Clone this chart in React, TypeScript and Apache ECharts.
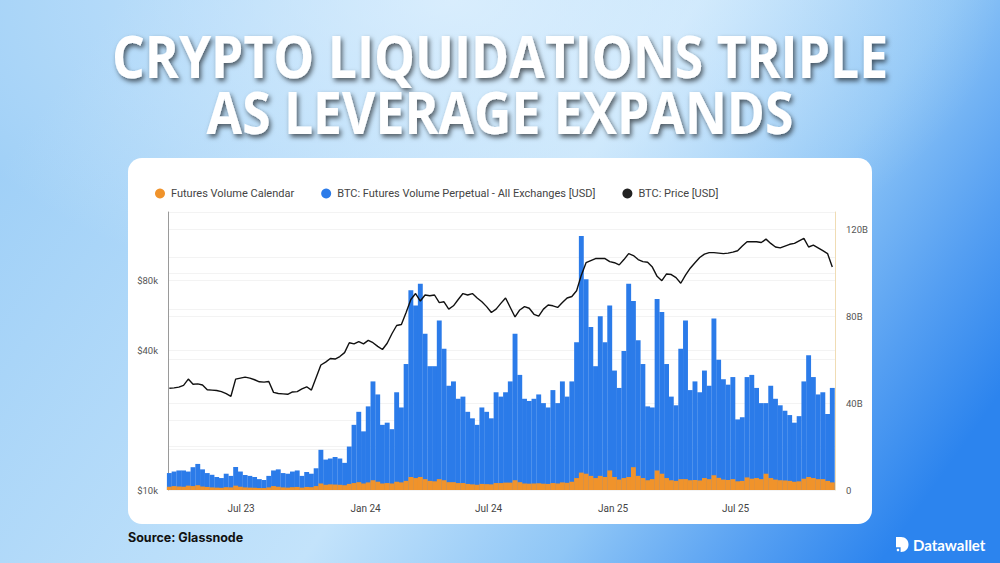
import React, { useEffect, useRef } from "react";
import * as echarts from "echarts";

// ---------- data ----------
const START_DATE = "2023-03-17"; // first weekly sample
const STEP_DAYS = 7;
const X_MIN_DATE = "2023-03-15";
const X_MAX_DATE = "2025-11-25";

const X_TICK_DATES = ["2023-07-01", "2024-01-01", "2024-07-01", "2025-01-01", "2025-07-01"];
const X_TICK_LABELS = ["Jul 23", "Jan 24", "Jul 24", "Jan 25", "Jul 25"];

const PRICE_LABEL_VALUES = [10000, 40000, 80000];
const PRICE_GRID_VALUES = [15000, 20000, 40000, 60000, 80000, 100000];
const VOLUME_LABEL_STEP_B = 40;

const SERIES_NAMES = [
  "Futures Volume Calendar",
  "BTC: Futures Volume Perpetual - All Exchanges [USD]",
  "BTC: Price [USD]",
];

// BTC price, thousands of USD, weekly
const BTC_PRICE_K = [
  27.4, 27.5, 27.7, 28.2, 30.0, 28.5, 28.6, 28.3, 27.0, 26.9,
  26.8, 26.5, 26.0, 25.3, 30.0, 30.3, 30.6, 30.3, 29.8, 29.2,
  29.1, 29.3, 26.3, 26.0, 25.9, 25.8, 26.4, 26.5, 27.2, 27.8,
  26.9, 30.5, 34.5, 35.5, 36.8, 36.6, 37.5, 39.0, 43.0, 42.5,
  43.5, 42.5, 44.0, 43.0, 41.5, 40.2, 42.8, 47.0, 51.0, 51.5,
  58.0, 66.0, 70.0, 65.0, 69.0, 68.5, 69.0, 64.0, 64.5, 60.0,
  62.0, 66.0, 70.0, 69.0, 70.0, 67.0, 64.5, 61.5, 58.0, 60.0,
  63.5, 67.0, 61.0, 55.5, 59.5, 61.5, 60.5, 57.0, 56.0, 60.0,
  62.5, 62.0, 61.0, 64.0, 67.0, 68.0, 72.0, 84.0, 95.0, 97.0,
  99.0, 99.0, 99.0, 96.0, 95.0, 93.0, 98.0, 104.0, 102.0, 98.0,
  96.0, 95.5, 91.0, 83.0, 79.5, 85.0, 84.5, 82.0, 77.5, 84.0,
  90.0, 95.0, 100.0, 103.5, 105.0, 105.0, 104.5, 104.0, 104.5, 105.5,
  107.0, 112.0, 117.0, 117.0, 117.0, 116.0, 120.0, 115.0, 111.0, 110.0,
  112.0, 114.0, 115.0, 118.0, 121.0, 111.0, 113.0, 110.0, 107.0, 104.0, 91.0,
];

// Perpetual futures volume, billions USD, weekly
const PERP_VOLUME_B = [
  7.8, 8.5, 9.0, 9.0, 8.5, 10.5, 12.0, 9.5, 7.8, 7.0,
  6.0, 5.5, 7.5, 6.5, 10.6, 8.5, 6.9, 6.5, 6.0, 5.0,
  4.6, 6.5, 9.0, 9.5, 7.8, 7.5, 8.5, 9.0, 6.5, 8.3,
  7.5, 10.0, 18.5, 14.0, 14.5, 15.2, 14.5, 12.5, 20.0, 30.0,
  36.0, 27.0, 38.5, 50.0, 44.0, 30.0, 31.0, 28.0, 45.0, 38.0,
  58.0, 92.0, 85.0, 95.0, 72.0, 57.0, 57.0, 78.0, 65.0, 48.0,
  50.0, 42.0, 43.0, 36.0, 33.0, 30.0, 38.0, 36.0, 33.0, 45.0,
  43.0, 45.0, 50.0, 72.0, 53.0, 42.0, 41.0, 42.0, 44.0, 40.0,
  38.0, 46.0, 40.0, 50.0, 43.0, 50.0, 68.0, 117.0, 97.0, 75.0,
  57.0, 80.0, 68.0, 85.0, 55.0, 47.0, 64.0, 95.0, 87.0, 69.0,
  58.0, 38.5, 38.0, 88.0, 82.0, 58.0, 43.0, 39.0, 65.0, 78.0,
  46.0, 50.0, 45.0, 55.0, 48.0, 79.0, 60.0, 51.0, 48.5, 52.0,
  32.5, 33.5, 52.0, 53.0, 47.0, 40.0, 40.0, 48.0, 42.0, 39.0,
  36.5, 34.5, 31.0, 34.0, 50.0, 62.0, 52.0, 44.0, 45.0, 35.0, 47.0,
];

// Calendar futures volume, billions USD, weekly
const CALENDAR_VOLUME_B = [
  1.5, 1.8, 1.6, 1.5, 2.0, 1.8, 2.2, 1.6, 1.4, 1.2,
  1.1, 1.0, 1.3, 1.2, 2.0, 1.5, 1.2, 1.1, 1.0, 0.9,
  0.9, 1.2, 1.8, 1.5, 1.2, 1.1, 1.3, 1.4, 1.1, 1.4,
  1.3, 1.8, 3.0, 2.4, 2.6, 2.5, 2.4, 2.2, 2.8, 3.2,
  3.6, 3.0, 3.5, 4.5, 3.8, 3.0, 3.2, 3.0, 3.8, 3.5,
  4.2, 6.0, 5.5, 6.0, 5.0, 4.2, 4.0, 5.0, 4.5, 3.6,
  3.6, 3.2, 3.2, 2.8, 2.6, 2.4, 2.8, 2.7, 2.6, 3.2,
  3.2, 3.4, 3.4, 4.5, 3.6, 3.0, 2.9, 3.0, 3.1, 2.9,
  2.8, 3.2, 3.0, 3.5, 3.3, 3.8, 5.5, 8.0, 7.5, 6.5,
  5.5, 6.5, 6.0, 9.0, 6.0, 4.8, 5.5, 6.0, 10.5, 6.5,
  5.5, 4.5, 5.0, 9.0, 7.5, 5.5, 4.5, 4.2, 5.0, 5.0,
  4.5, 4.6, 4.4, 5.5, 5.0, 6.8, 5.6, 4.8, 4.6, 5.0,
  4.0, 4.2, 5.8, 5.2, 5.5, 5.0, 7.5, 5.5, 4.8, 4.5,
  4.4, 4.2, 3.8, 4.0, 5.2, 6.0, 5.5, 5.0, 5.0, 4.2, 3.5,
];

// ---------- helpers ----------
const DAY_MS = 86400000;
const startTime = Date.parse(START_DATE);
const weekTime = (i: number) => startTime + i * STEP_DAYS * DAY_MS;
const xTickTimes = X_TICK_DATES.map((d) => Date.parse(d));

const LOGO_PATH =
  "M0 0 H5 C9.6 0 12.5 3.3 12.5 7.5 C12.5 11.7 9.6 15 5 15 H4.6 V10.2 H0 Z";

export default function App() {
  const ref = useRef<HTMLDivElement>(null);

  useEffect(() => {
    const el = ref.current;
    if (!el) return;
    echarts.graphic.registerShape(
      "dwLogo",
      echarts.graphic.extendPath(LOGO_PATH, {}) as any
    );
    const chart = echarts.init(el, null, { renderer: "svg" });

    const titleStyle = {
      fill: "#ffffff",
      fontFamily: "'Open Sans', 'Noto Sans', sans-serif",
      fontWeight: 700,
      fontSize: 60,
      align: "center",
      verticalAlign: "middle",
      textShadowColor: "rgba(0,0,0,0.6)",
      textShadowBlur: 5,
      textShadowOffsetX: 2,
      textShadowOffsetY: 3,
    };

    const option: any = {
      animation: false,
      textStyle: { fontFamily: "Roboto, 'Noto Sans', sans-serif" },
      legend: {
        data: SERIES_NAMES,
        left: 150,
        top: 183,
        itemWidth: 12,
        itemHeight: 10,
        itemGap: 27,
        icon: "circle",
        selectedMode: false,
        textStyle: { fontSize: 11, color: "#444", fontFamily: "Roboto, sans-serif" },
      },
      grid: { left: 168, right: 165, top: 212, bottom: 73 },
      xAxis: {
        type: "value",
        min: Date.parse(X_MIN_DATE),
        max: Date.parse(X_MAX_DATE),
        axisLine: { show: false },
        axisTick: { show: false },
        splitLine: { show: false },
        axisLabel: {
          customValues: xTickTimes,
          formatter: (v: number) => {
            const idx = xTickTimes.indexOf(v);
            return idx >= 0 ? X_TICK_LABELS[idx] : "";
          },
          fontSize: 10,
          color: "#444",
          margin: 13,
        },
      },
      yAxis: [
        {
          type: "log",
          logBase: 2,
          min: 10000,
          max: 157000,
          position: "left",
          axisLine: { show: true, lineStyle: { color: "#9a9a9a", width: 1 } },
          axisTick: { show: false, customValues: PRICE_GRID_VALUES },
          splitLine: { show: true, lineStyle: { color: "#f3f3f3" } },
          axisLabel: {
            customValues: PRICE_LABEL_VALUES,
            formatter: (v: number) => "$" + Math.round(v / 1000) + "k",
            fontSize: 9.5,
            color: "#555",
            margin: 10,
          },
        },
        {
          type: "value",
          min: 0,
          max: 128e9,
          interval: 20e9,
          position: "right",
          axisLine: { show: true, lineStyle: { color: "#f0dcb4", width: 1 } },
          axisTick: { show: false },
          splitLine: { show: true, lineStyle: { color: "#f3f3f3" } },
          axisLabel: {
            showMaxLabel: false,
            formatter: (v: number) => {
              const b = Math.round(v / 1e9);
              if (b === 0) return "0";
              return b % VOLUME_LABEL_STEP_B === 0 ? b + "B" : "";
            },
            fontSize: 9.5,
            color: "#555",
            margin: 11,
          },
        },
      ],
      series: [
        {
          name: SERIES_NAMES[1],
          type: "bar",
          yAxisIndex: 1,
          barGap: "-100%",
          barWidth: 4.9,
          itemStyle: { color: "#2b7be9" },
          data: PERP_VOLUME_B.map((v, i) => [weekTime(i), v * 1e9]),
          z: 2,
        },
        {
          name: SERIES_NAMES[0],
          type: "bar",
          yAxisIndex: 1,
          barGap: "-100%",
          barWidth: 4.9,
          itemStyle: { color: "#f0932b" },
          data: CALENDAR_VOLUME_B.map((v, i) => [weekTime(i), v * 1e9]),
          z: 3,
        },
        {
          name: SERIES_NAMES[2],
          type: "line",
          yAxisIndex: 0,
          symbol: "none",
          itemStyle: { color: "#222" },
          lineStyle: { color: "#111", width: 1.4 },
          data: BTC_PRICE_K.map((v, i) => [weekTime(i), v * 1000]),
          z: 4,
        },
      ],
      graphic: [
        {
          type: "rect",
          silent: true,
          z: -100,
          shape: { x: 0, y: 0, width: 1000, height: 563 },
          style: {
            fill: new echarts.graphic.LinearGradient(0, 0.3, 1, 0.7, [
              { offset: 0, color: "#a0d0f7" },
              { offset: 0.5, color: "#c3e3fb" },
              { offset: 0.72, color: "#8fc6f6" },
              { offset: 0.88, color: "#559ff2" },
              { offset: 1, color: "#2c84ee" },
            ]),
          },
        },
        {
          type: "rect",
          silent: true,
          z: -99,
          shape: { x: 0, y: 0, width: 1000, height: 563 },
          style: {
            fill: new echarts.graphic.RadialGradient(0.45, 0.0, 0.55, [
              { offset: 0, color: "rgba(232,245,255,0.7)" },
              { offset: 1, color: "rgba(232,245,255,0)" },
            ]),
          },
        },
        {
          type: "rect",
          silent: true,
          z: -98,
          shape: { x: 128, y: 158, width: 744, height: 366, r: 14 },
          style: { fill: "#ffffff" },
        },
        {
          type: "text",
          silent: true,
          z: 100,
          x: 500,
          y: 54,
          scaleX: 0.86,
          style: { ...titleStyle, text: "CRYPTO LIQUIDATIONS TRIPLE" },
        },
        {
          type: "text",
          silent: true,
          z: 100,
          x: 500,
          y: 110,
          scaleX: 0.86,
          style: { ...titleStyle, text: "AS LEVERAGE EXPANDS" },
        },
        {
          type: "text",
          silent: true,
          z: 100,
          x: 128,
          y: 537,
          style: {
            text: "Source: Glassnode",
            fill: "#111111",
            fontFamily: "Inter, 'Noto Sans', sans-serif",
            fontWeight: 700,
            fontSize: 12.5,
            verticalAlign: "middle",
          },
        },
        {
          type: "dwLogo",
          silent: true,
          z: 100,
          x: 896,
          y: 537,
          style: { fill: "#ffffff" },
        },
        {
          type: "circle",
          silent: true,
          z: 100,
          shape: { cx: 898, cy: 550, r: 1.3 },
          style: { fill: "#ffffff" },
        },
        {
          type: "text",
          silent: true,
          z: 100,
          x: 913,
          y: 544.5,
          style: {
            text: "Datawallet",
            fill: "#ffffff",
            fontFamily: "Lato, 'Noto Sans', sans-serif",
            fontWeight: 700,
            fontSize: 15,
            verticalAlign: "middle",
          },
        },
      ],
    };

    chart.setOption(option);
    return () => {
      chart.dispose();
    };
  }, []);

  return (
    <div
      ref={ref}
      style={{ position: "absolute", left: 0, top: 0, width: 1000, height: 563 }}
    />
  );
}
